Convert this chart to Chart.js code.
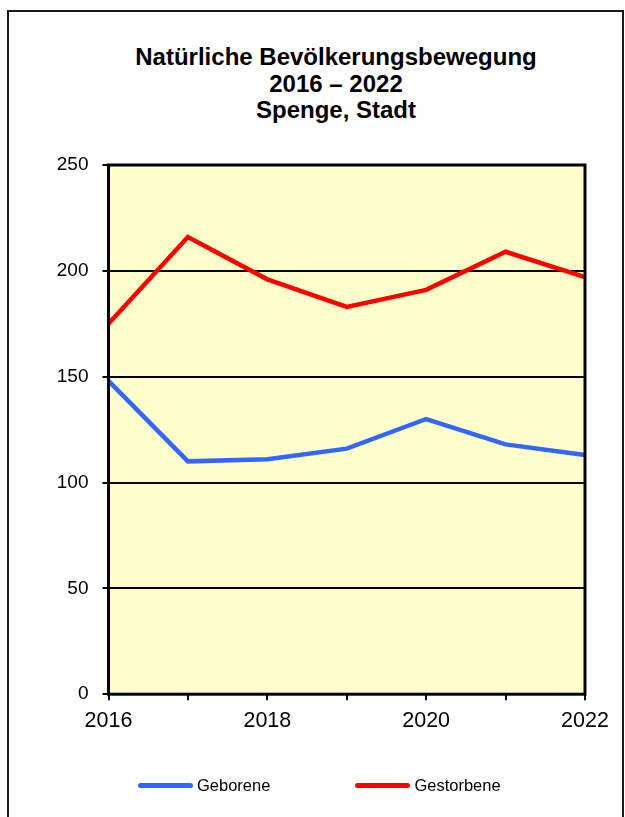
<!DOCTYPE html>
<html>
<head>
<meta charset="utf-8">
<title>Natürliche Bevölkerungsbewegung Spenge</title>
<script src="https://cdn.jsdelivr.net/npm/chart.js@4.4.0/dist/chart.umd.min.js"></script>
<style>
    html, body { margin: 0; padding: 0; background: #fff; }
    body { width: 625px; height: 817px; position: relative; overflow: hidden; font-family: "Liberation Sans", Arial, sans-serif; }
    #frame { position: absolute; left: 7px; top: 10px; width: 613px; height: 830px; border: 2px solid #1a1a1a; }
    #wrap { position: absolute; left: 0; top: 0; width: 625px; height: 817px; }
    #titel { position: absolute; left: 86px; top: 44px; width: 500px; text-align: center; font-weight: bold; font-size: 24px; line-height: 26.5px; color: #000; }
    #legend { position: absolute; left: 138px; top: 776px; display: flex; gap: 85px; }
    .legend-item { display: flex; align-items: center; font-size: 16.5px; color: #000; }
    .legend-line { width: 55px; height: 5px; border-radius: 3px; margin-right: 4px; }
</style>
</head>
<body>
<div id="frame"></div>
<div id="titel"></div>
<div id="wrap"><canvas id="bewegungChart" width="625" height="817"></canvas></div>
<div id="legend"></div>

<script>
// ==============================================
// DATEN
// ==============================================
const jahre = ['2016', '2017', '2018', '2019', '2020', '2021', '2022'];
const geborene = [148, 110, 111, 116, 130, 118, 113];
const gestorbene = [175, 216, 196, 183, 191, 209, 197];
const yTicks = [0, 50, 100, 150, 200, 250];
const titelZeilen = ['Natürliche Bevölkerungsbewegung', '2016 – 2022', 'Spenge, Stadt'];

const FONT = '"Liberation Sans", Arial, sans-serif';

// Hintergrund + Rahmen der Zeichenfläche
const plotArea = {
    id: 'plotArea',
    beforeDraw(chart) {
        const { ctx, chartArea: a } = chart;
        ctx.save();
        ctx.fillStyle = '#FFFFCC';
        ctx.fillRect(a.left, a.top, a.right - a.left, a.bottom - a.top);
        ctx.restore();
    },
    afterDatasetsDraw(chart) {
        const { ctx, chartArea: a } = chart;
        ctx.save();
        ctx.strokeStyle = '#000';
        ctx.lineWidth = 3;
        ctx.strokeRect(a.left, a.top, a.right - a.left, a.bottom - a.top);
        ctx.restore();
    }
};

function initTitle() {
    const el = document.getElementById('titel');
    titelZeilen.forEach(z => {
        const d = document.createElement('div');
        d.textContent = z;
        el.appendChild(d);
    });
}

function initChart() {
    const ctx = document.getElementById('bewegungChart');
    const chart = new Chart(ctx, {
        type: 'line',
        data: {
            labels: jahre,
            datasets: [{
                label: 'Geborene',
                data: geborene,
                borderColor: '#3366FF',
                backgroundColor: '#3366FF',
                borderWidth: 4.5,
                pointRadius: 0,
                tension: 0
            }, {
                label: 'Gestorbene',
                data: gestorbene,
                borderColor: '#FF0000',
                backgroundColor: '#FF0000',
                borderWidth: 4.5,
                pointRadius: 0,
                tension: 0
            }]
        },
        options: {
            responsive: false,
            animation: false,
            layout: {
                padding: { left: 10, right: 40, top: 165, bottom: 75 }
            },
            plugins: {
                legend: { display: false },
                tooltip: { enabled: false },
                title: { display: false }
            },
            scales: {
                x: {
                    offset: false,
                    border: { display: false },
                    grid: {
                        drawOnChartArea: false,
                        drawTicks: true,
                        tickLength: 6,
                        color: '#000',
                        lineWidth: 2
                    },
                    ticks: {
                        autoSkip: false,
                        maxRotation: 0,
                        padding: 8,
                        color: '#000',
                        font: { family: FONT, size: 21.5 },
                        callback: function(value, index) {
                            return index % 2 === 0 ? jahre[index] : '';
                        }
                    }
                },
                y: {
                    min: yTicks[0],
                    max: yTicks[yTicks.length - 1],
                    border: { display: false },
                    afterFit: function(scale) { scale.width = 98.5; },
                    afterBuildTicks: function(scale) {
                        scale.ticks = yTicks.map(v => ({ value: v }));
                    },
                    grid: {
                        color: '#000',
                        lineWidth: 2,
                        tickLength: 6
                    },
                    ticks: {
                        padding: 14,
                        color: '#000',
                        font: { family: FONT, size: 19 }
                    }
                }
            }
        },
        plugins: [plotArea]
    });
    buildLegend(chart);
}

// HTML-Legende aus den Datensätzen
function buildLegend(chart) {
    const box = document.getElementById('legend');
    chart.data.datasets.forEach(ds => {
        const item = document.createElement('div');
        item.className = 'legend-item';
        const line = document.createElement('span');
        line.className = 'legend-line';
        line.style.background = ds.borderColor;
        const txt = document.createElement('span');
        txt.textContent = ds.label;
        item.appendChild(line);
        item.appendChild(txt);
        box.appendChild(item);
    });
}

initTitle();
initChart();
</script>
</body>
</html>
